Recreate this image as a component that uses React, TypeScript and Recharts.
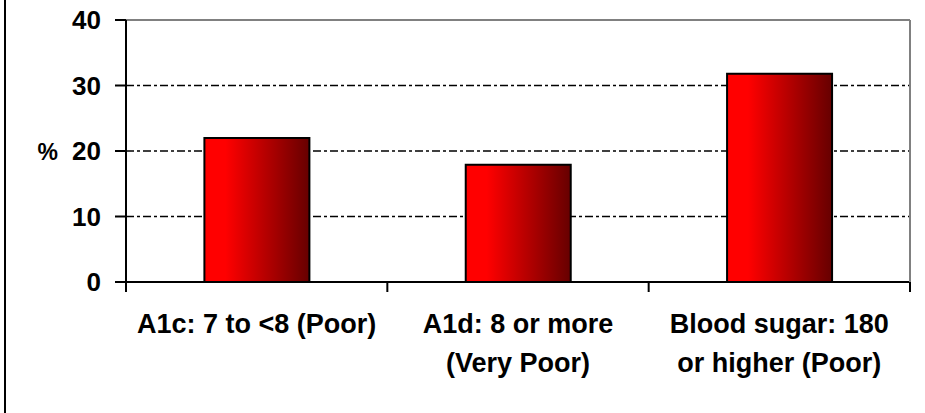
import { BarChart, Bar, XAxis, YAxis, CartesianGrid, ReferenceLine } from "recharts";

const categories = [
  "A1c: 7 to <8 (Poor)",
  "A1d: 8 or more\n(Very Poor)",
  "Blood sugar: 180\nor higher (Poor)",
];
const percents = [22, 17.9, 31.8];
const yTicks = [0, 10, 20, 30, 40];

const data = categories.map((name, i) => ({ name, value: percents[i] }));

const FONT = "'Liberation Sans', Arial, sans-serif";

function CategoryTick(props: any) {
  const { x, y, payload, index } = props;
  const half = payload?.offset ?? 0;
  const lines = String(payload.value).split("\n");
  return (
    <g>
      <line x1={x - half} y1={y} x2={x - half} y2={y + 10} stroke="#000" strokeWidth={2} />
      {index === categories.length - 1 && (
        <line x1={x + half} y1={y} x2={x + half} y2={y + 10} stroke="#000" strokeWidth={2} />
      )}
      <text
        x={x}
        y={y}
        textAnchor="middle"
        fontFamily={FONT}
        fontWeight="bold"
        fontSize={27}
        fill="#000"
      >
        {lines.map((line, i) => (
          <tspan key={i} x={x} dy={i === 0 ? 51 : 39}>
            {line}
          </tspan>
        ))}
      </text>
    </g>
  );
}

function ValueTick(props: any) {
  const { x, y, payload } = props;
  return (
    <g>
      <text
        x={x}
        y={y}
        dy={9}
        textAnchor="end"
        fontFamily={FONT}
        fontWeight="bold"
        fontSize={26}
        fill="#000"
      >
        {payload.value}
      </text>
      {payload.value === 20 && (
        <text
          x={x - 43}
          y={y}
          dy={9}
          textAnchor="end"
          fontFamily={FONT}
          fontWeight="bold"
          fontSize={23}
          fill="#000"
        >
          %
        </text>
      )}
    </g>
  );
}

export default function App() {
  return (
    <div style={{ position: "absolute", left: 0, top: 0, width: 925, height: 413, background: "#fff" }}>
      <div style={{ position: "absolute", left: 4, top: 0, width: 2, height: 413, background: "#000" }} />
      <BarChart
        width={925}
        height={413}
        data={data}
        margin={{ top: 20, right: 0, bottom: 0, left: 0 }}
        barCategoryGap="30%"
      >
        <defs>
          <linearGradient id="barFill" x1="0" y1="0" x2="1" y2="0">
            <stop offset="0%" stopColor="#ff0000" />
            <stop offset="20%" stopColor="#ff0000" />
            <stop offset="100%" stopColor="#660000" />
          </linearGradient>
        </defs>
        <CartesianGrid
          vertical={false}
          stroke="#000"
          strokeWidth={1.5}
          strokeDasharray="8 3 3 3"
          horizontalValues={[10, 20, 30]}
        />
        <XAxis
          dataKey="name"
          height={131}
          axisLine={{ stroke: "#000", strokeWidth: 2 }}
          tickLine={false}
          tickSize={0}
          tickMargin={0}
          interval={0}
          tick={<CategoryTick />}
        />
        <YAxis
          width={126}
          domain={[0, 40]}
          ticks={yTicks}
          interval={0}
          axisLine={{ stroke: "#000", strokeWidth: 2 }}
          tickLine={{ stroke: "#000", strokeWidth: 2 }}
          tickSize={11}
          tickMargin={14}
          tick={<ValueTick />}
        />
        <YAxis
          yAxisId="right"
          orientation="right"
          width={15}
          domain={[0, 40]}
          axisLine={{ stroke: "#808080", strokeWidth: 2 }}
          tickLine={false}
          tick={false}
        />
        <ReferenceLine y={40} stroke="#808080" strokeWidth={2} />
        <Bar
          dataKey="value"
          fill="url(#barFill)"
          stroke="#000"
          strokeWidth={2}
          isAnimationActive={false}
        />
      </BarChart>
    </div>
  );
}
